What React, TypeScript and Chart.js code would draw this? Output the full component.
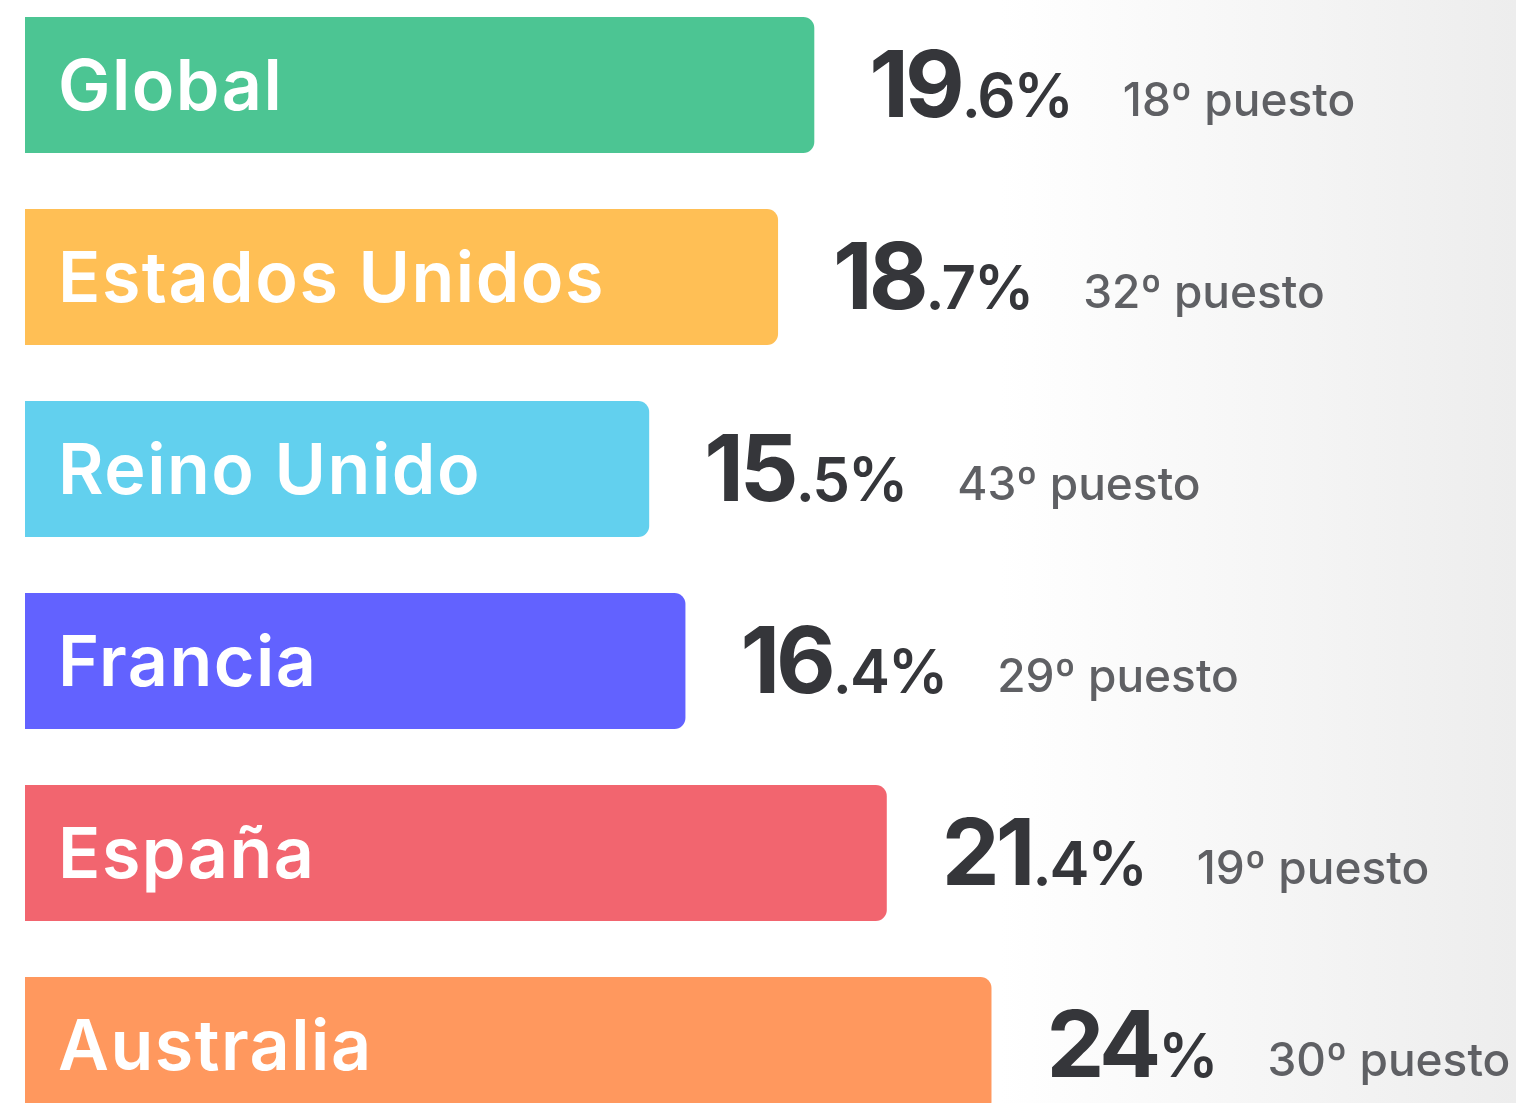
import React, { useEffect, useRef } from "react";
import { Chart, registerables } from "chart.js";
Chart.register(...registerables);

const categories = ["Global", "Estados Unidos", "Reino Unido", "Francia", "España", "Australia"];
const values = [19.6, 18.7, 15.5, 16.4, 21.4, 24];
const ranks = [18, 32, 43, 29, 19, 30];
const colors = ["#4cc593", "#ffbf55", "#62d0ee", "#6262ff", "#f2656f", "#ff985e"];
const rankSuffix = "º puesto";

const FONT = "Inter, 'Open Sans', sans-serif";

const labelPlugin = {
  id: "barLabels",
  afterDatasetsDraw(chart: any) {
    const ctx = chart.ctx as any;
    const meta = chart.getDatasetMeta(0);
    meta.data.forEach((bar: any, i: number) => {
      const { x, y, base } = bar.getProps(["x", "y", "base"], true);
      ctx.save();
      ctx.textBaseline = "alphabetic";
      ctx.textAlign = "left";
      ctx.fillStyle = "#ffffff";
      ctx.font = `600 70px ${FONT}`;
      ctx.letterSpacing = "1.5px";
      ctx.fillText(categories[i], base + 33, y + 25);

      const v = values[i];
      const intPart = Math.floor(v).toString();
      const rest = (Number.isInteger(v) ? "" : "." + v.toFixed(1).split(".")[1]) + "%";
      let cx = x + 55;
      const by = y + 32;
      ctx.fillStyle = "#35363a";
      ctx.font = `700 92px ${FONT}`;
      ctx.letterSpacing = "-4px";
      ctx.fillText(intPart, cx, by);
      cx += ctx.measureText(intPart).width + 1;
      ctx.font = `600 60px ${FONT}`;
      ctx.letterSpacing = "-2px";
      ctx.fillText(rest, cx, by);
      cx += ctx.measureText(rest).width + 51;
      ctx.fillStyle = "#5f6064";
      ctx.font = `500 46px ${FONT}`;
      ctx.letterSpacing = "0px";
      ctx.fillText(ranks[i] + rankSuffix, cx, by - 1);
      ctx.restore();
    });
  },
};

export default function App() {
  const ref = useRef<HTMLCanvasElement | null>(null);
  useEffect(() => {
    document.body.style.margin = "0";
    if (!ref.current) return;
    const chart = new Chart(ref.current, {
      type: "bar",
      data: {
        labels: categories,
        datasets: [
          {
            data: values,
            backgroundColor: colors,
            borderRadius: { topLeft: 0, bottomLeft: 0, topRight: 11, bottomRight: 11 },
            borderSkipped: false,
            barPercentage: 136 / 192,
            categoryPercentage: 1,
          },
        ],
      },
      options: {
        indexAxis: "y",
        animation: false,
        responsive: false,
        maintainAspectRatio: false,
        layout: { padding: { left: 25, right: 1, top: 0, bottom: 0 } },
        plugins: { legend: { display: false }, tooltip: { enabled: false } },
        scales: {
          x: { min: 0, max: 37, display: false, grid: { display: false } },
          y: { display: false, grid: { display: false } },
        },
      },
      plugins: [labelPlugin],
    });
    return () => chart.destroy();
  }, []);
  return (
    <div
      style={{
        position: "relative",
        width: 1516,
        height: 1103,
        overflow: "hidden",
        background: "linear-gradient(to right, #ffffff 0%, #ffffff 66%, #ededed 100%)",
      }}
    >
      <canvas ref={ref} width={1516} height={1152} style={{ position: "absolute", left: 0, top: -11 }} />
    </div>
  );
}
